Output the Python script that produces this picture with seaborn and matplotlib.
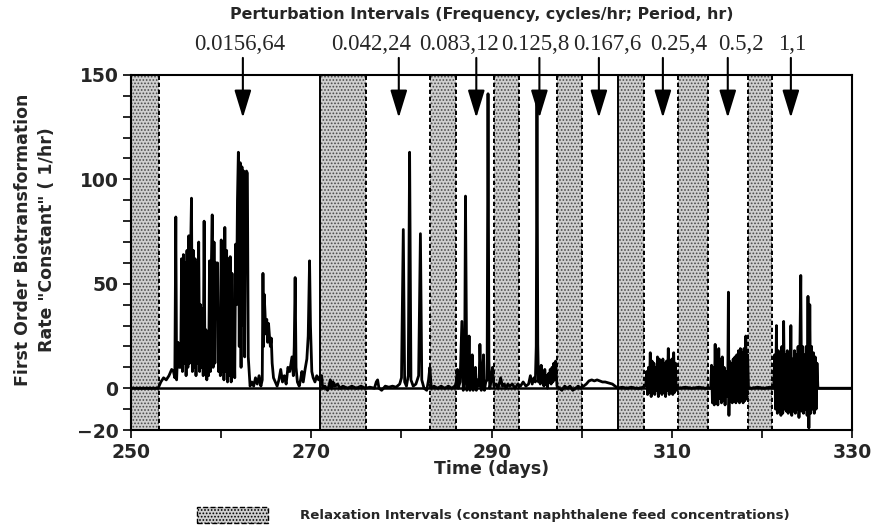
import numpy as np
import pandas as pd
import matplotlib
matplotlib.use("Agg")
import matplotlib.pyplot as plt
import matplotlib.transforms as mtransforms
from matplotlib.patches import Patch
import seaborn as sns

# ---------------- data ----------------
# relaxation intervals (constant feed), days
relax_start = [250.0, 271.0, 283.2, 290.3, 297.2, 304.0, 310.7, 318.5]
relax_end = [253.1, 276.1, 286.1, 293.0, 300.0, 306.9, 314.0, 321.1]

# perturbation intervals: arrow positions (days) and labels
pert_days = [262.4, 279.7, 288.3, 295.3, 301.9, 309.0, 316.2, 323.2]
pert_labels = ["0.0156,64", "0.042,24", "0.083,12", "0.125,8",
               "0.167,6", "0.25,4", "0.5,2", "1,1"]

# rate constant (1/hr): (day, rate) pairs
early = [(250.0, 0), (253.0, 0), (253.3, 3), (253.6, 5), (253.9, 4), (254.2, 6),
         (254.5, 9), (254.7, 8), (254.85, 5), (254.96, 82), (255.05, 4),
         (255.2, 22), (255.35, 10)]

# dense burst, 0.1 day sampling from 255.5
burst1_start = 255.5
burst1 = [10, 62, 8, 64, 12, 60, 6, 66, 10, 73, 12, 65, 91, 8, 66, 10, 62, 6,
          60, 12, 70, 8, 40, 10, 38, 6, 80, 8, 28, 4, 24, 6, 61, 8, 58, 83,
          10, 70, 12, 60, 60, 60, 8, 30, 6, 71, 8, 66, 4, 77, 8, 66, 3, 62,
          6, 63, 3, 55, 6, 30, 5, 69, 40, 90, 113, 20, 108, 10, 106, 30, 104,
          15, 103, 104]

after1 = [(262.9, 103), (263.0, 15), (263.2, 1), (263.4, 3), (263.6, 1), (263.8, 5),
          (264.0, 2), (264.2, 6), (264.4, 1), (264.55, 4), (264.63, 55), (264.7, 20),
          (264.76, 45), (264.85, 37), (264.95, 26), (265.05, 33), (265.15, 22),
          (265.25, 31), (265.35, 25), (265.45, 20), (265.55, 24), (265.65, 12),
          (265.8, 5), (266.0, 3), (266.2, 1), (266.4, 4), (266.6, 9), (266.8, 3),
          (267.0, 6), (267.2, 2), (267.4, 10), (267.6, 8), (267.85, 15), (268.0, 6),
          (268.1, 20), (268.2, 53), (268.3, 10), (268.45, 3), (268.65, 1), (268.8, 4),
          (268.95, 8), (269.1, 3), (269.3, 9), (269.5, 14), (269.65, 25), (269.8, 61),
          (269.9, 30), (270.05, 8), (270.2, 5), (270.4, 3), (270.6, 6), (270.8, 4),
          (271.0, 6), (271.15, 6)]

mid = [(271.25, 0), (271.5, 1), (271.8, -1), (272.0, 2), (272.1, 4), (272.25, 0),
       (272.4, 3), (272.6, 1), (272.9, 2), (273.2, 0), (273.5, 1), (274.0, 0),
       (274.5, 1), (275.0, 0), (275.5, 1), (276.0, 0), (276.5, 0.5), (277.0, 0),
       (277.2, 3), (277.35, 4), (277.5, 0), (277.8, -1), (278.2, 1), (278.6, 0.5),
       (279.0, 1), (279.4, 0.5), (279.8, 2), (280.0, 5), (280.2, 76), (280.35, 3),
       (280.55, 1), (280.75, 6), (280.9, 113), (281.05, 4), (281.3, 1), (281.6, 2),
       (281.9, 6), (282.1, 74), (282.25, 4), (282.5, 0), (282.8, -1), (283.0, 4),
       (283.15, 10), (283.3, 0), (283.6, 1), (284.0, 0), (284.4, 1), (284.8, 0),
       (285.2, 1), (285.6, 0), (285.9, 1)]

spikes2 = [(286.05, 2), (286.2, 9), (286.3, 0), (286.5, 3), (286.7, 32), (286.85, -1),
           (287.0, 4), (287.1, 92), (287.25, -1), (287.4, 5), (287.5, 25), (287.6, -1),
           (287.75, 4), (287.85, 16), (287.95, -1), (288.1, 3), (288.2, 10), (288.3, -1),
           (288.45, 4), (288.6, 1), (288.7, 21), (288.85, -1), (289.0, 5), (289.1, 16),
           (289.2, -1), (289.35, 3), (289.5, 4), (289.6, 141), (289.7, 13), (289.8, 0),
           (289.95, 4), (290.1, 10), (290.25, 1)]

quiet2 = [(290.5, 2), (290.7, 0), (290.9, 3), (291.0, 5), (291.2, 1), (291.4, 2),
          (291.6, 0), (291.8, 2), (292.0, 1), (292.3, 2), (292.6, 0), (292.9, 2),
          (293.2, 1), (293.5, 3), (293.8, 1), (294.1, 2), (294.3, 6), (294.5, 2),
          (294.7, 5), (294.85, 3), (294.95, 20), (295.03, 137), (295.12, 21)]

burst2_start = 295.2
burst2 = [3, 10, 2, 11, 4, 8, 1, 9, 2, 6, 0, 7, 3, 9, 2, 10, 3, 12, 4, 13]

quiet3 = [(297.25, 1), (297.5, 0), (297.8, -1), (298.1, 1), (298.4, 0), (298.7, 1),
          (299.0, -1), (299.3, 0), (299.6, 1), (299.9, 0), (300.2, 1), (300.5, 2),
          (300.8, 3.5), (301.1, 4), (301.4, 3.5), (301.7, 4), (302.0, 3.5),
          (302.3, 3), (302.6, 3), (303.0, 2.5), (303.4, 2), (303.7, 1), (304.0, 0),
          (304.5, 0.5), (305.0, 0), (305.5, 0.5), (306.0, 0), (306.5, 0), (307.0, 1)]

burst3_start = 307.1
burst3 = [2, 8, -3, 10, -2, 17, -4, 13, -2, 12, -3, 10, -1, 15, -4, 14, -2, 11,
          -3, 14, -2, 12, -4, 13, -1, 19, -3, 11, -2, 14, -3, 17, -2, 12, -1, 0]

quiet4 = [(310.8, 0), (311.5, 0.5), (312.2, 0), (313.0, 0.5), (313.7, 0), (314.2, 0)]

burst4a_start = 314.3
burst4a = [0, 11, -7, 10, -8, 21, -6, 12, -8, 19, -5, 14, -7, 15, -6, 10, -8, 8, -4, 3]

spike4 = [(316.27, 46), (316.33, -13)]

burst4b_start = 316.4
burst4b = [13, -6, 12, -7, 14, -6, 15, -7, 16, -6, 18, -7, 19, -6, 17, -7, 19,
           -6, 25, -5, 16, 0]

quiet5 = [(318.8, 0), (319.5, 0.5), (320.2, 0), (320.9, 0.5), (321.2, 0)]

burst5_start = 321.3
burst5 = [2, 16, -10, 30, -12, 18, -11, 17, -13, 20, -12, 32, -10, 16, -11, 18,
          -12, 15, -10, 30, -13, 14, -11, 18, -12, 16, -10, 20, -14, 18, 54, -11,
          20, -12, 16, -10, 20, -13, 44, -19, 40, -12, 20, -10, 17, -12, 15, -10,
          12, 0]

tail = [(326.4, 0), (330.0, 0)]

# ---------------- assemble ----------------
STEP = 0.1
frames = []
for pairs in [early, after1, mid, spikes2, quiet2, quiet3, quiet4, spike4, quiet5, tail]:
    frames.append(pd.DataFrame(pairs, columns=["day", "rate"]))
for start, vals in [(burst1_start, burst1), (burst2_start, burst2), (burst3_start, burst3),
                    (burst4a_start, burst4a), (burst4b_start, burst4b),
                    (burst5_start, burst5)]:
    frames.append(pd.DataFrame({"day": np.round(start + STEP * np.arange(len(vals)), 3),
                                "rate": vals}))
df = pd.concat(frames, ignore_index=True).sort_values("day").reset_index(drop=True)

# ---------------- plot ----------------
sns.set_style("ticks")
plt.rcParams.update({
    "font.family": ["DejaVu Sans"],
    "hatch.linewidth": 0.8,
    "axes.linewidth": 1.5,
    "axes.edgecolor": "black",
    "path.simplify": False,
})

fig = plt.figure(figsize=(8.74, 5.26), dpi=100)
ax = fig.add_axes([0.150, 0.1825, 0.825, 0.675])

band_face = "#cfcfcf"
band_hatch_col = "#4a4a4a"
dash = (0, (2.2, 1.4))
for i, (s, e) in enumerate(zip(relax_start, relax_end)):
    ax.axvspan(s, e, facecolor=band_face, edgecolor=band_hatch_col, hatch=".....",
               lw=0, zorder=0)
    if s > 250:
        ax.axvline(s, color="black", lw=1.4,
                   ls="-" if s in (271.0, 304.0) else dash, zorder=1)
    ax.axvline(e, color="black", lw=1.4, ls=dash, zorder=1)

ax.axhline(0, color="black", lw=1.8, zorder=2)

sns.lineplot(data=df, x="day", y="rate", color="black", lw=2.0,
             estimator=None, sort=True, ax=ax, zorder=3)

ax.set_xlim(250, 330)
ax.set_ylim(-20, 150)
ax.set_xticks([250, 270, 290, 310, 330])
ax.set_xticks([260, 280, 300, 320], minor=True)
ax.set_yticks([-20, 0, 50, 100, 150])
ax.set_yticks(list(range(-10, 150, 10)), minor=True)
ax.tick_params(which="both", direction="out", length=6, width=1.4,
               top=False, right=False, labelsize=13.5, pad=3)
for lab in ax.get_xticklabels() + ax.get_yticklabels():
    lab.set_fontweight("bold")
for sp in ax.spines.values():
    sp.set_visible(True)
    sp.set_linewidth(1.5)

ax.set_xlabel("Time (days)", fontsize=12.5, fontweight="bold", labelpad=-1)
ax.set_ylabel("First Order Biotransformation\nRate \"Constant\" ( 1/hr)",
              fontsize=12.5, fontweight="bold", linespacing=1.45)
ax.yaxis.set_label_coords(-0.104, 0.535)

# arrows and perturbation labels
trans = mtransforms.blended_transform_factory(ax.transData, ax.transAxes)
label_x = [262.0, 276.6, 286.4, 294.9, 302.8, 310.8, 317.7, 323.3]
for d, lx, lab in zip(pert_days, label_x, pert_labels):
    ax.annotate("", xy=(d, 129.5), xycoords="data",
                xytext=(d, 1.048), textcoords=("data", "axes fraction"),
                arrowprops=dict(arrowstyle="-|>,head_length=0.85,head_width=0.26",
                                color="black", lw=1.5, shrinkA=0, shrinkB=0,
                                mutation_scale=20),
                annotation_clip=False, zorder=5)
    ax.text(lx, 1.087, lab, transform=trans, ha="center", va="center",
            fontsize=16.5, family=["Liberation Serif", "DejaVu Serif"])

fig.text(0.551, 0.972, "Perturbation Intervals (Frequency, cycles/hr; Period, hr)",
         ha="center", va="center", fontsize=11.4, fontweight="bold")

# legend for relaxation intervals
handle = Patch(facecolor=band_face, edgecolor="black", hatch=".....",
               linestyle="--", lw=1.0)
fig.legend([handle], ["Relaxation Intervals (constant naphthalene feed concentrations)"],
           loc="center left", bbox_to_anchor=(197 / 874, 1 - 515 / 526),
           frameon=False, borderpad=0, borderaxespad=0, handlelength=5.3,
           handleheight=1.5, handletextpad=2.4,
           prop={"weight": "bold", "size": 9.6})

fig.savefig("out.png", dpi=100)
